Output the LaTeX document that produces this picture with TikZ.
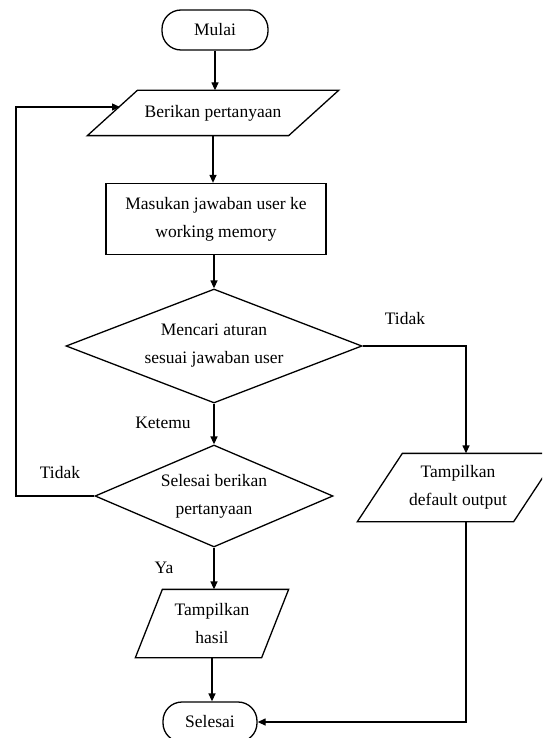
\documentclass[tikz,border=0pt]{standalone}
\usepackage{fontspec}
\setmainfont{Liberation Serif}
\usetikzlibrary{arrows.meta,shapes.geometric,calc}
\newcommand\drawpara[2]{%
  \draw ([xshift=#2]#1.north west) -- ([xshift=#2]#1.north east) -- ([xshift=-#2]#1.south east) -- ([xshift=-#2]#1.south west) -- cycle;}
\begin{document}
\begin{tikzpicture}[x=1pt,y=-1pt,
  font=\fontsize{17.5}{28}\selectfont,
  line width=1.3pt,
  >={Triangle[length=8pt,width=7pt]},
  term/.style={draw, rounded corners=19pt, minimum width=#1, minimum height=40pt, inner sep=0pt},
  box/.style={draw, minimum width=220pt, minimum height=71pt, align=center, inner sep=0pt},
  pbox/.style={minimum width=#1, align=center, inner sep=0pt},
  dia/.style={draw, diamond, inner sep=0pt},
  txt/.style={align=center, inner sep=0pt}]
\clip (0,0) rectangle (542,738);
\fill[white] (0,0) rectangle (542,738);

\node[term=106pt] (mulai) at (215,30) {Mulai};
\node[pbox=200pt, minimum height=44pt] (berikan) at (213,113) {Berikan pertanyaan};
\drawpara{berikan}{25pt}
\node[box] (masuk) at (216,219) {Masukan jawaban user ke\\working memory};
\node[dia, minimum width=296pt, minimum height=114pt] (d1) at (214,346) {};
\node[txt] (t1) at (d1) {Mencari aturan\\sesuai jawaban user};
\node[dia, minimum width=238pt, minimum height=102pt] (d2) at (214,496) {};
\node[txt] (t2) at (d2) {Selesai berikan\\pertanyaan};
\node[pbox=125pt, minimum height=67pt] (hasil) at (212,623.5) {Tampilkan\\hasil};
\drawpara{hasil}{13.5pt}
\node[pbox=155pt, minimum height=67pt] (dflt) at (458,487.5) {Tampilkan\\default output};
\drawpara{dflt}{22.5pt}
\node[term=94pt] (selesai) at (210,722) {Selesai};

\node[txt] (lt1) at (405,319) {Tidak};
\node[txt] (lk) at (163,423) {Ketemu};
\node[txt] (lt2) at (60,473) {Tidak};
\node[txt] (ly) at (164,568) {Ya};

\coordinate (r1) at (466,0);
\coordinate (l1) at (16,0);
\coordinate (bl) at (120,107);

\draw[->] (mulai.south) -- (mulai.south |- berikan.north);
\draw[->] (berikan.south) -- (berikan.south |- masuk.north);
\draw[->] (d1.north |- masuk.south) -- (d1.north);
\draw[->] (d1.south) -- (d2.north);
\draw[->] (d2.south) -- (d2.south |- hasil.north);
\draw[->] (hasil.south) -- (hasil.south |- selesai.north);
\draw[->] (d1.east) -| (r1 |- dflt.north);
\draw[->] (r1 |- dflt.south) |- (selesai.east);
\draw[->] (d2.west) -| (l1 |- bl) -- (bl);
\end{tikzpicture}
\end{document}
